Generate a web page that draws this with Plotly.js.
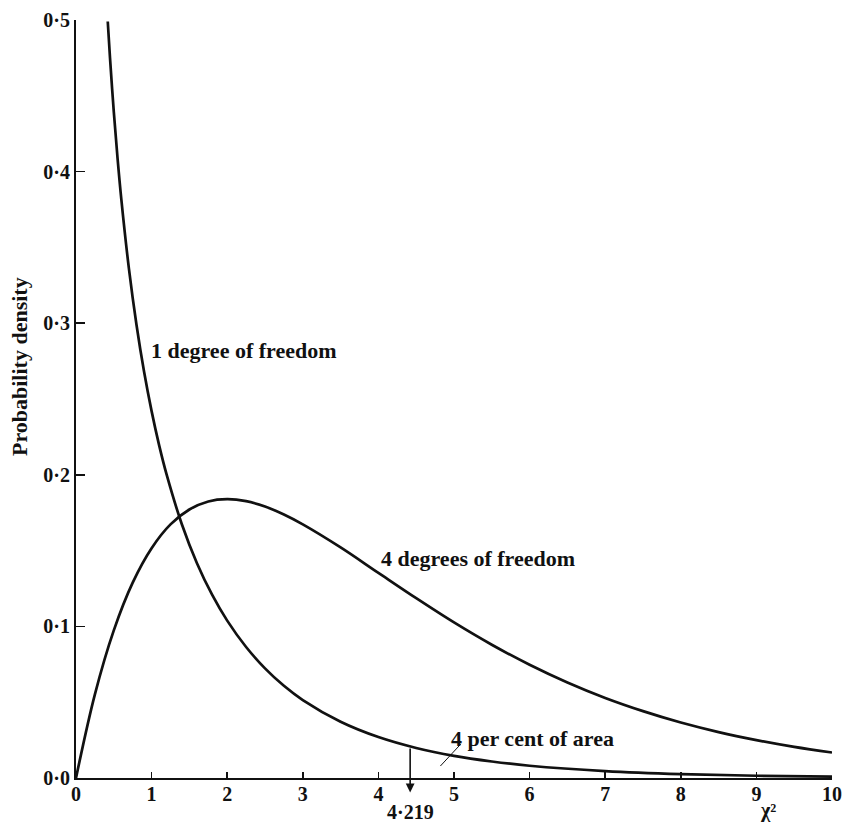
<!DOCTYPE html>
<html>
<head>
<meta charset="utf-8">
<script src="https://cdn.plot.ly/plotly-3.0.1.min.js"></script>
<style>html,body{margin:0;padding:0;background:#fff;}#chart{width:844px;height:823px;}</style>
</head>
<body>
<div id="chart"></div>
<script>
// chi-square density, 1 degree of freedom
const x1 = [0.42, 0.45, 0.5, 0.55, 0.6, 0.7, 0.8, 0.9, 1.0, 1.1, 1.2, 1.4, 1.6, 1.8, 2.0, 2.25, 2.5, 2.75, 3.0, 3.5, 4.0, 4.5, 5.0, 5.5, 6.0, 7.0, 8.0, 9.0, 10.0];
const y1 = [0.4990, 0.4749, 0.4394, 0.4086, 0.3815, 0.3360, 0.2990, 0.2681, 0.2420, 0.2194, 0.1999, 0.1674, 0.1417, 0.1209, 0.1038, 0.0864, 0.0723, 0.0608, 0.0514, 0.0371, 0.0270, 0.0198, 0.0146, 0.0109, 0.0081, 0.0046, 0.0026, 0.0015, 0.0009];
// chi-square density, 4 degrees of freedom
const x4 = [0, 0.25, 0.5, 0.75, 1.0, 1.25, 1.5, 1.75, 2.0, 2.25, 2.5, 2.75, 3.0, 3.5, 4.0, 4.5, 5.0, 5.5, 6.0, 6.5, 7.0, 7.5, 8.0, 8.5, 9.0, 9.5, 10.0];
const y4 = [0, 0.0552, 0.0974, 0.1289, 0.1516, 0.1673, 0.1771, 0.1824, 0.1839, 0.1826, 0.1791, 0.1738, 0.1673, 0.1521, 0.1353, 0.1186, 0.1026, 0.0879, 0.0747, 0.0630, 0.0528, 0.0441, 0.0366, 0.0303, 0.0250, 0.0205, 0.0168];

const xTickVals = [0,1,2,3,4,5,6,7,8,9,10];
const xTickText = ["0","1","2","3","4","5","6","7","8","9","10"];
const yTickVals = [0,0.1,0.2,0.3,0.4,0.5];
const yTickText = ["0·0","0·1","0·2","0·3","0·4","0·5"];

const critX = 4.42;          // arrow position
const critTopY = 0.0205;     // where arrow meets the 1 d.f. curve
const critBottomY = -0.0095; // arrow head just below the axis
const critLabel = "4·219";
const pointerX = [4.82, 5.09];
const pointerY = [0.0079, 0.0224];

const labels = [
  {text: "1 degree of freedom", x: 0.96, y: 0.282},
  {text: "4 degrees of freedom", x: 4.01, y: 0.145},
  {text: "4 per cent of area", x: 4.93, y: 0.0262}
];

const FONT = "'Liberation Serif', 'DejaVu Serif', serif";
const INK = "#111";

const traces = [
  {x: x1, y: y1, mode: "lines", line: {color: INK, width: 2.7, shape: "spline", smoothing: 1}, hoverinfo: "skip", cliponaxis: false},
  {x: x4, y: y4, mode: "lines", line: {color: INK, width: 2.7, shape: "spline", smoothing: 1}, hoverinfo: "skip", cliponaxis: false},
  {x: pointerX, y: pointerY, mode: "lines", line: {color: INK, width: 1}, hoverinfo: "skip", cliponaxis: false}
];

const annotations = labels.map(l => ({
  text: "<b>" + l.text + "</b>", x: l.x, y: l.y, xref: "x", yref: "y",
  xanchor: "left", yanchor: "middle", showarrow: false,
  font: {family: FONT, size: 22, color: INK}
}));
annotations.push({
  text: "", x: critX, y: critBottomY, ax: critX, ay: critTopY, axref: "x", ayref: "y",
  xref: "x", yref: "y", showarrow: true, arrowhead: 2, arrowsize: 1.1, arrowwidth: 1.6, arrowcolor: INK
});
annotations.push({
  text: "<b>" + critLabel + "</b>", x: 0.443, y: -0.0449, xref: "paper", yref: "paper",
  xanchor: "center", yanchor: "middle", showarrow: false,
  font: {family: FONT, size: 20, color: INK}
});
annotations.push({
  text: "<b>χ²</b>", x: 0.915, y: -0.043, xref: "paper", yref: "paper",
  xanchor: "center", yanchor: "middle", showarrow: false,
  font: {family: FONT, size: 20, color: INK}
});
annotations.push({
  text: "<b>Probability density</b>", x: -0.0754, y: 0.5435, xref: "paper", yref: "paper",
  xanchor: "center", yanchor: "middle", textangle: -90, showarrow: false,
  font: {family: FONT, size: 22, color: INK}
});

const layout = {
  width: 844, height: 823,
  margin: {l: 76, r: 12, t: 20, b: 45},
  paper_bgcolor: "#fff", plot_bgcolor: "#fff",
  showlegend: false,
  xaxis: {
    range: [0, 10], showgrid: false, zeroline: false,
    showline: true, linecolor: INK, linewidth: 2,
    ticks: "inside", ticklen: 6, tickwidth: 1.5, tickcolor: INK,
    tickvals: xTickVals, ticktext: xTickText, ticklabelstandoff: -3,
    tickfont: {family: FONT, size: 20, color: INK, weight: 700}
  },
  yaxis: {
    range: [0, 0.5], showgrid: false, zeroline: false,
    showline: true, linecolor: INK, linewidth: 2,
    ticks: "inside", ticklen: 9, tickwidth: 1.5, tickcolor: INK,
    tickvals: yTickVals, ticktext: yTickText,
    tickfont: {family: FONT, size: 20, color: INK, weight: 700}
  },
  annotations: annotations
};

Plotly.newPlot("chart", traces, layout, {staticPlot: true});
</script>
</body>
</html>
